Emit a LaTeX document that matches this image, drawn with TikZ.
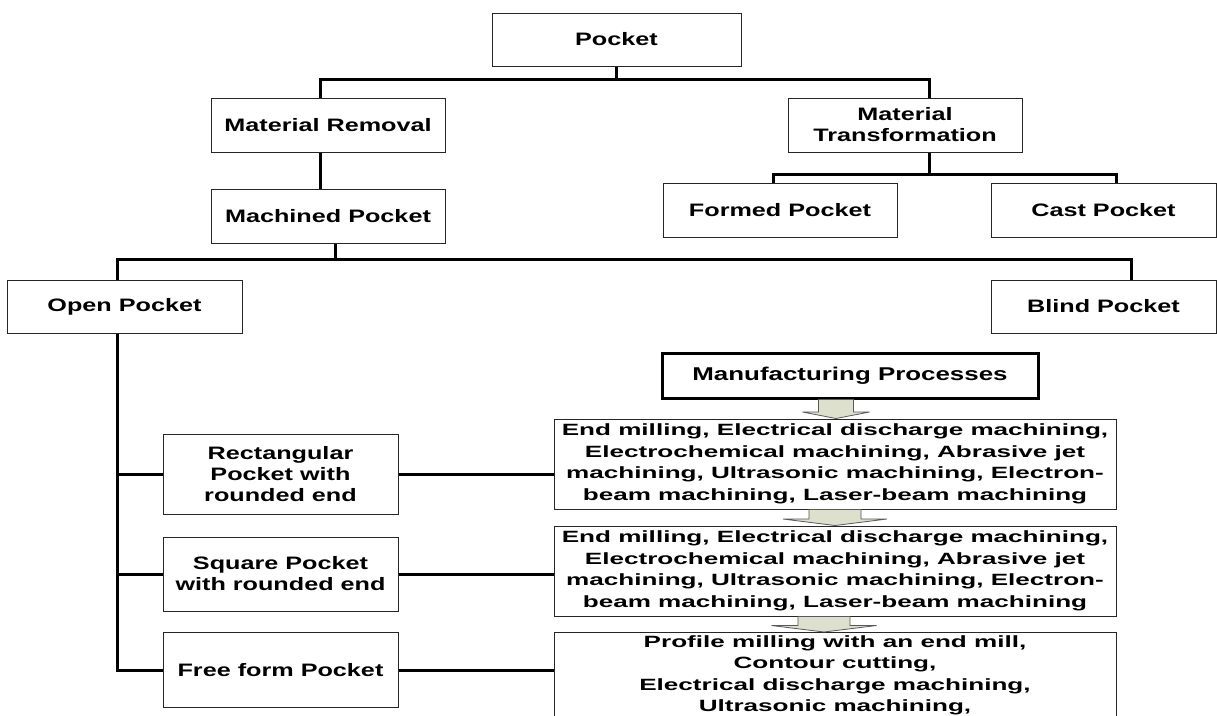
\documentclass[tikz,border=0pt]{standalone}
\usepackage{fontspec}
\setmainfont[FakeStretch=1.4]{Liberation Sans}
\newfontfamily\procfont[FakeStretch=1.6]{Liberation Sans}
\usetikzlibrary{calc,positioning}
\definecolor{arrowfill}{RGB}{221,224,204}

\begin{document}
\begin{tikzpicture}[x=1pt,y=-1pt,
	box/.style={draw=black!85,line width=1pt,fill=white,inner sep=0pt,align=center,
		minimum width=234pt,minimum height=54pt,font=\fontsize{18}{21}\selectfont\bfseries},
	procbox/.style={box,minimum width=562pt,minimum height=90pt,
		font=\procfont\bfseries\fontsize{16.3}{21.5}\selectfont},
	bar/.style={line width=3pt},
	fatarrow/.style={draw=black!65,line width=0.8pt,fill=arrowfill}]
	\fill[white] (0,0) rectangle (1217,715);
	\useasboundingbox (0,0) rectangle (1217,715);
	\node (pocket) [box,minimum width=249pt,minimum height=53pt] at (616.5,39.5) {Pocket};
	\node (removal) [box] at (328,125) {Material Removal};
	\node (transform) [box] at (905,125) {Material\\Transformation};
	\node (machined) [box] at (328,216) {Machined Pocket};
	\node (formed) [box] at (780,210) {Formed Pocket};
	\node (cast) [box,minimum width=225pt] at (1103.5,210) {Cast Pocket};
	\node (open) [box,minimum width=235pt,minimum height=53pt] at (124.5,306.5) {Open Pocket};
	\node (blind) [box,minimum width=225pt,minimum height=53pt] at (1103.5,306.5) {Blind Pocket};
	\node (process) [box,draw=black,line width=3pt,minimum width=376pt,minimum height=45pt,
		font=\fontsize{18.5}{22}\selectfont\bfseries] at (850,375.5) {Manufacturing Processes};
	\node (rect) [box,minimum width=235pt,minimum height=80pt] at (280.5,474) {Rectangular\\Pocket with\\rounded end};
	\node (square) [box,minimum width=235pt,minimum height=74pt] at (280.5,574) {Square Pocket\\with rounded end};
	\node (free) [box,minimum width=235pt,minimum height=75pt] at (280.5,670) {Free form Pocket};
	\node (proc1) [procbox] at (835,464) {End milling, Electrical discharge machining,\\Electrochemical machining, Abrasive jet\\machining, Ultrasonic machining, Electron-\\beam machining, Laser-beam machining};
	\node (proc2) [procbox] at (835,571) {End milling, Electrical discharge machining,\\Electrochemical machining, Abrasive jet\\machining, Ultrasonic machining, Electron-\\beam machining, Laser-beam machining};
	\node (proc3) [procbox,minimum height=86pt,anchor=north] at (835,632) {Profile milling with an end mill,\\Contour cutting,\\Electrical discharge machining,\\Ultrasonic machining,};

	\draw[bar] (pocket.south) -- ++(0,13) coordinate (top bus);
	\draw[bar] ([xshift=-8pt]removal.north) |- (top bus) -| ([xshift=24pt]transform.north);
	\draw[bar] ([xshift=-8pt]removal.south) -- ([xshift=-8pt]machined.north);
	\draw[bar] ([xshift=24pt]transform.south) -- ++(0,22) coordinate (cast bus);
	\draw[bar] ([xshift=-7pt]formed.north) |- (cast bus) -| ([xshift=12.5pt]cast.north);
	\draw[bar] ([xshift=7pt]machined.south) -- ++(0,16) coordinate (mid bus);
	\draw[bar] ([xshift=-7.5pt]open.north) |- (mid bus) -| ([xshift=27.5pt]blind.north);
	\draw[bar] ([xshift=-7.5pt]open.south) coordinate (trunk) |- (free.west);
	\draw[bar] (rect.west) -- (rect.west -| trunk);
	\draw[bar] (square.west) -- (square.west -| trunk);
	\foreach \src/\dst in {rect/proc1,square/proc2,free/proc3}
		\draw[bar] (\src.east) -- (\src.east -| \dst.west);
	\foreach \src/\dst/\dx/\s/\h in {process/proc1/1/17.5/33.5,proc1/proc2/0/26/52,proc2/proc3/-11/26/52.5}
		\draw[fatarrow] ($(\src.south -| \dst.north)+(\dx-\s,0)$) -- ($(\dst.north)+(\dx-\s,-6.5)$)
			-- ($(\dst.north)+(\dx-\h,-6.5)$) -- ($(\dst.north)+(\dx,0)$) -- ($(\dst.north)+(\dx+\h,-6.5)$)
			-- ($(\dst.north)+(\dx+\s,-6.5)$) -- ($(\src.south -| \dst.north)+(\dx+\s,0)$) -- cycle;
\end{tikzpicture}
\end{document}
